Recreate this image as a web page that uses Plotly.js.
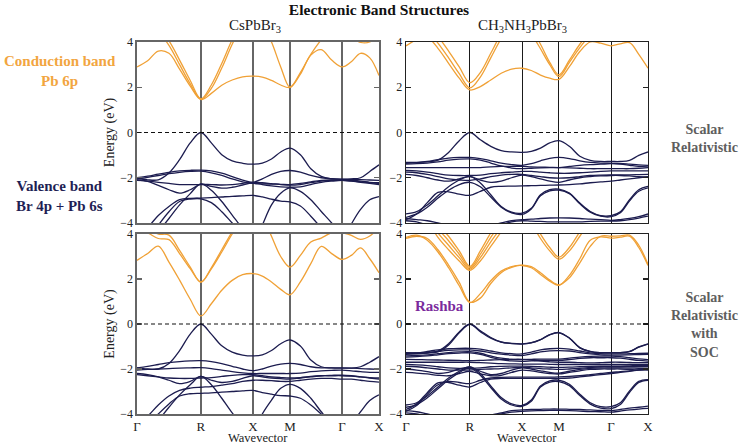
<!DOCTYPE html>
<html>
<head>
<meta charset="utf-8">
<script src="https://cdn.plot.ly/plotly-3.0.1.min.js"></script>
<style>html,body{margin:0;padding:0;background:#fff;}#chart{width:742px;height:445px;}</style>
</head>
<body>
<div id="chart"></div>
<script>
// ---- k-path (Γ-R-X-M-Γ-X, simple cubic) ----
const segLen = [Math.sqrt(3), Math.SQRT2, 1, Math.SQRT2, 1];
const segSteps = [6, 5, 4, 5, 4];
const kLabels = ['Γ', 'R', 'X', 'M', 'Γ', 'X'];
const yTicks = [-4, -2, 0, 2, 4];

// ---- CsPbBr3, scalar relativistic (top-left) ----
const tlC1 = [2.9,3.17,3.6,3.5,2.8,2.05,1.46, 1.73,2.09,2.32,2.46,2.49, 2.45,2.3,2.1,1.99, 2.58,3.42,3.66,3.2,2.9, 3.13,3.5,3.3,2.52];
const tlC2 = [5.0,4.8,4.45,3.85,3.0,2.15,1.47, 1.95,2.85,3.9,4.8,5.3, 4.8,4.0,2.9,2.0, 2.65,3.45,4.1,4.6,4.9, 4.7,4.5,4.4,4.5];
const tlC3 = [5.2,5.0,4.6,4.05,3.2,2.3,1.49, 2.1,3.05,4.1,4.9,5.4, 5.2,5.0,4.8,4.7, 4.7,4.6,4.5,4.4,4.3, 4.2,3.98,4.0,4.3];
const tlV1 = [-2.01,-2.09,-2.09,-1.79,-1.2,-0.46,0, -0.46,-0.98,-1.25,-1.36,-1.4, -1.35,-1.17,-0.86,-0.69, -0.98,-1.6,-1.94,-2.04,-2.06, -2.05,-2.0,-1.72,-1.43];
const tlV2 = [-2.0,-1.93,-1.84,-1.76,-1.7,-1.67,-1.66, -1.7,-1.8,-1.95,-2.1,-2.2, -2.05,-1.85,-1.72,-1.68, -1.75,-1.9,-2.0,-2.05,-2.07, -2.07,-2.08,-2.1,-2.12];
const tlV3 = [-2.06,-1.98,-1.9,-1.82,-1.76,-1.72,-1.71, -1.78,-1.9,-2.05,-2.18,-2.25, -2.27,-2.28,-2.29,-2.3, -2.25,-2.18,-2.12,-2.1,-2.1, -2.12,-2.15,-2.2,-2.22];
const tlV4 = [-2.1,-2.16,-2.34,-2.53,-2.68,-2.53,-2.28, -2.38,-2.46,-2.42,-2.32,-2.22, -2.3,-2.36,-2.4,-2.42, -2.4,-2.3,-2.2,-2.15,-2.12, -2.15,-2.2,-2.25,-2.3];
const tlV5 = [-4.6,-4.2,-3.67,-3.27,-2.97,-2.91,-2.9, -2.88,-2.85,-2.82,-2.8,-2.78, -2.85,-2.95,-3.03,-3.07, -3.25,-3.7,-4.2,-4.6,-4.8, -4.05,-3.4,-2.97,-2.83];
const tlV6 = [-5.5,-4.8,-4.1,-3.5,-3.05,-2.94,-2.93, -3.1,-3.5,-4.0,-4.5,-5.0, -4.1,-3.2,-2.68,-2.45, -2.6,-2.97,-3.49,-4.0,-4.6, -4.8,-5.0,-5.1,-5.2];
const tlV7 = [-5.6,-5.0,-4.4,-3.8,-3.2,-2.7,-2.27, -2.55,-3.05,-3.65,-4.25,-4.8, -4.8,-4.6,-4.3,-4.1, -4.2,-4.4,-4.6,-4.8,-5.0, -5.1,-5.2,-5.3,-5.3];
const tlV8 = [-2.12,-2.15,-2.2,-2.25,-2.3,-2.3,-2.3, -2.3,-2.32,-2.3,-2.25,-2.2, -2.22,-2.26,-2.3,-2.33, -2.3,-2.22,-2.15,-2.12,-2.12, -2.14,-2.18,-2.22,-2.25];

// ---- CH3NH3PbBr3, scalar relativistic (top-right) ----
const trC1 = [3.83,4.1,4.2,3.72,3.06,2.4,1.88, 2.03,2.32,2.62,2.8,2.84, 2.74,2.54,2.4,2.35, 2.91,3.58,4.0,3.95,3.83, 3.92,3.97,3.45,2.84];
const trC2 = [4.4,4.6,4.5,3.95,3.3,2.6,1.97, 2.45,3.3,4.15,4.8,5.2, 4.4,3.7,3.0,2.47, 3.1,3.75,4.3,4.6,4.7, 4.7,4.6,4.5,4.5];
const trC3 = [4.7,4.9,4.8,4.25,3.6,2.9,2.2, 2.65,3.5,4.35,4.9,5.3, 4.6,3.9,3.1,2.55, 3.2,3.9,4.45,4.7,4.8, 4.8,4.7,4.6,4.6];
const trV1 = [-1.32,-1.32,-1.3,-1.22,-0.88,-0.36,0, -0.32,-0.61,-0.8,-0.86,-0.88, -0.83,-0.69,-0.46,-0.36, -0.61,-1.05,-1.23,-1.28,-1.28, -1.28,-1.23,-1.01,-0.86];
const trV2 = [-1.36,-1.33,-1.28,-1.2,-1.13,-1.1,-1.1, -1.15,-1.25,-1.35,-1.42,-1.45, -1.38,-1.25,-1.14,-1.1, -1.15,-1.25,-1.32,-1.35,-1.36, -1.37,-1.4,-1.43,-1.45];
const trV3 = [-1.4,-1.38,-1.35,-1.3,-1.22,-1.18,-1.17, -1.22,-1.35,-1.48,-1.57,-1.6, -1.58,-1.56,-1.55,-1.55, -1.5,-1.45,-1.42,-1.4,-1.38, -1.4,-1.45,-1.5,-1.52];
const trV4 = [-1.55,-1.55,-1.55,-1.55,-1.55,-1.55,-1.55, -1.55,-1.52,-1.5,-1.5,-1.5, -1.52,-1.53,-1.54,-1.55, -1.56,-1.58,-1.6,-1.6,-1.6, -1.6,-1.6,-1.58,-1.55];
const trV5 = [-1.68,-1.7,-1.75,-1.82,-1.88,-1.9,-1.9, -1.88,-1.82,-1.78,-1.75,-1.72, -1.72,-1.75,-1.78,-1.8, -1.8,-1.78,-1.75,-1.72,-1.7, -1.7,-1.7,-1.7,-1.7];
const trV6 = [-1.75,-1.78,-1.85,-1.95,-2.05,-2.1,-2.12, -2.05,-1.95,-1.88,-1.85,-1.85, -1.9,-1.95,-2.0,-2.02, -2.0,-1.95,-1.9,-1.88,-1.87, -1.87,-1.87,-1.86,-1.85];
const trV7 = [-1.85,-1.9,-2.0,-2.1,-2.15,-2.05,-1.95, -2.1,-2.2,-2.15,-2.0,-1.88, -1.95,-2.05,-2.15,-2.2, -2.1,-2.0,-1.95,-1.92,-1.9, -1.9,-1.92,-1.95,-1.97];
const trV8 = [-3.6,-3.5,-3.2,-2.8,-2.4,-2.1,-1.94, -2.23,-2.75,-3.27,-3.52,-3.56, -3.35,-2.75,-2.53,-2.5, -2.68,-3.12,-3.49,-3.67,-3.67, -3.5,-2.97,-2.53,-2.38];
const trV9 = [-3.75,-3.6,-3.3,-2.9,-2.55,-2.3,-2.2, -2.4,-2.85,-3.3,-3.55,-3.62, -3.38,-2.8,-2.58,-2.55, -2.7,-3.15,-3.52,-3.7,-3.72, -3.55,-3.02,-2.6,-2.45];
const trV10 = [-3.85,-3.6,-3.1,-2.65,-2.62,-2.72,-2.78, -2.6,-2.42,-2.38,-2.37,-2.36, -2.35,-2.34,-2.33,-2.32, -2.3,-2.27,-2.22,-2.18,-2.15, -2.1,-2.05,-2.0,-1.95];
const trV11 = [-3.8,-3.85,-3.9,-4.0,-4.1,-4.2,-4.25, -4.2,-4.1,-4.0,-3.9,-3.85, -3.83,-3.8,-3.78,-3.77, -3.78,-3.8,-3.83,-3.85,-3.88, -3.85,-3.8,-3.72,-3.6];
const trV12 = [-3.9,-3.95,-4.1,-4.3,-4.5,-4.6,-4.6, -4.5,-4.3,-4.1,-3.95,-3.9, -3.92,-3.93,-3.95,-3.95, -3.95,-3.95,-3.93,-3.92,-3.92, -3.9,-3.85,-3.78,-3.7];

// ---- CsPbBr3, with SOC (bottom-left) ----
const blC1 = [2.83,3.13,3.46,2.75,1.95,1.1,0.36, 0.9,1.5,1.94,2.19,2.24, 2.13,1.87,1.54,1.3, 1.87,2.68,3.45,3.13,2.87, 3.05,3.38,2.9,2.28];
const blC2 = [4.2,4.05,3.8,3.75,3.13,2.46,1.87, 2.45,3.2,4.0,4.7,5.2, 4.8,3.9,3.0,2.53, 3.05,3.64,3.82,4.05,4.05, 3.94,3.76,3.91,4.3];
const blC3 = [4.5,4.2,4.0,3.95,3.27,2.53,1.85, 2.5,3.3,4.1,4.8,5.3, 5.2,5.0,4.8,4.6, 4.5,4.4,4.3,4.3,4.3, 4.3,4.3,4.4,4.5];
const blV1 = [-1.95,-2.0,-2.0,-1.75,-1.18,-0.45,0, -0.45,-0.97,-1.25,-1.38,-1.42, -1.37,-1.18,-0.88,-0.71, -0.98,-1.6,-1.9,-1.95,-1.96, -1.96,-1.9,-1.7,-1.45];
const blV2 = [-1.95,-1.88,-1.8,-1.72,-1.67,-1.64,-1.63, -1.67,-1.76,-1.88,-2.0,-2.07, -2.0,-1.87,-1.78,-1.75, -1.8,-1.9,-1.95,-1.95,-1.95, -1.96,-1.98,-2.0,-2.02];
const blV3 = [-2.05,-2.02,-2.0,-1.98,-1.96,-1.95,-1.94, -1.98,-2.05,-2.12,-2.17,-2.2, -2.2,-2.2,-2.2,-2.2, -2.18,-2.12,-2.08,-2.06,-2.05, -2.08,-2.12,-2.15,-2.15];
const blV4 = [-2.2,-2.25,-2.35,-2.5,-2.65,-2.55,-2.33, -2.5,-2.6,-2.55,-2.42,-2.3, -2.35,-2.4,-2.43,-2.45, -2.4,-2.35,-2.3,-2.28,-2.27, -2.3,-2.35,-2.4,-2.45];
const blV5 = [-2.25,-2.3,-2.35,-2.4,-2.42,-2.42,-2.4, -2.38,-2.33,-2.28,-2.25,-2.25, -2.3,-2.35,-2.38,-2.4, -2.38,-2.33,-2.3,-2.3,-2.3, -2.32,-2.35,-2.38,-2.4];
const blV6 = [-4.5,-4.1,-3.6,-3.2,-2.95,-2.85,-2.81, -2.78,-2.72,-2.65,-2.55,-2.5, -2.5,-2.52,-2.55,-2.55, -2.5,-2.45,-2.42,-2.42,-2.45, -2.45,-2.5,-2.55,-2.58];
const blV7 = [-4.9,-4.5,-4.0,-3.55,-3.2,-3.1,-3.08, -3.06,-3.03,-3.0,-2.97,-2.95, -3.05,-3.12,-3.18,-3.2, -3.3,-3.6,-4.0,-4.4,-4.6, -4.4,-3.9,-3.4,-3.15];
const blV8 = [-5.4,-4.9,-4.3,-3.7,-3.15,-2.7,-2.33, -2.7,-3.3,-3.95,-4.5,-4.9, -4.0,-3.38,-2.86,-2.68, -2.86,-3.3,-3.9,-4.4,-4.7, -4.9,-5.0,-5.1,-5.2];

// ---- CH3NH3PbBr3, with SOC (bottom-right) ----
const brC1 = [3.85,3.95,3.72,3.2,2.5,1.7,0.95, 1.35,1.92,2.35,2.55,2.6, 2.5,2.2,1.9,1.72, 2.16,2.9,3.72,3.87,3.82, 3.86,3.9,3.4,2.6];
const brC2 = [3.8,3.9,3.8,3.3,2.62,1.85,0.97, 1.15,1.8,2.28,2.52,2.62, 2.55,2.28,1.95,1.74, 2.05,2.72,3.45,3.9,3.9, 3.92,3.95,3.5,2.65];
const brC3 = [5.3,5.0,4.6,3.85,3.3,2.8,2.38, 2.8,3.45,4.1,4.8,5.2, 4.5,3.8,3.25,2.88, 3.25,3.9,4.55,5.0,5.2, 5.2,5.1,5.0,4.9];
const brC4 = [5.5,5.2,4.8,4.05,3.5,2.95,2.44, 2.95,3.65,4.3,5.0,5.3, 4.7,4.0,3.4,2.97, 3.4,4.1,4.75,5.1,5.3, 5.3,5.2,5.1,5.0];
const brC5 = [5.7,5.4,5.0,4.25,3.7,3.1,2.5, 3.1,3.85,4.5,5.1,5.4, 5.2,5.0,4.8,4.7, 4.8,5.0,5.2,5.3,5.4, 5.4,5.3,5.2,5.1];
const brC6 = [5.9,5.6,5.2,4.45,3.9,3.25,2.56, 3.25,4.05,4.7,5.2,5.5, 5.3,5.1,4.9,4.8, 4.9,5.1,5.3,5.4,5.5, 5.5,5.4,5.3,5.2];
const brV1a = [-1.27,-1.28,-1.27,-1.2,-0.88,-0.35,0, -0.3,-0.6,-0.8,-0.86,-0.88, -0.83,-0.69,-0.47,-0.38, -0.62,-1.05,-1.22,-1.27,-1.27, -1.27,-1.22,-1.02,-0.88];
const brV1b = [-1.29,-1.3,-1.29,-1.24,-0.93,-0.39,-0.02, -0.34,-0.63,-0.81,-0.87,-0.89, -0.84,-0.7,-0.48,-0.39, -0.63,-1.06,-1.23,-1.28,-1.28, -1.28,-1.23,-1.03,-0.89];
const brV2a = [-1.3,-1.28,-1.22,-1.15,-1.1,-1.08,-1.08, -1.12,-1.2,-1.28,-1.32,-1.33, -1.25,-1.15,-1.1,-1.08, -1.12,-1.2,-1.28,-1.32,-1.33, -1.33,-1.32,-1.31,-1.3];
const brV2b = [-1.35,-1.33,-1.28,-1.22,-1.17,-1.15,-1.15, -1.2,-1.28,-1.34,-1.38,-1.4, -1.33,-1.24,-1.19,-1.18, -1.2,-1.27,-1.33,-1.37,-1.38, -1.38,-1.37,-1.36,-1.35];
const brV3a = [-1.42,-1.4,-1.37,-1.32,-1.27,-1.24,-1.23, -1.3,-1.42,-1.52,-1.57,-1.58, -1.57,-1.56,-1.56,-1.56, -1.52,-1.47,-1.44,-1.43,-1.43, -1.45,-1.5,-1.55,-1.58];
const brV3b = [-1.47,-1.45,-1.42,-1.37,-1.32,-1.29,-1.28, -1.35,-1.48,-1.58,-1.64,-1.66, -1.64,-1.62,-1.62,-1.62, -1.58,-1.53,-1.5,-1.5,-1.5, -1.52,-1.57,-1.62,-1.65];
const brV4a = [-1.57,-1.58,-1.59,-1.6,-1.61,-1.62,-1.63, -1.62,-1.6,-1.58,-1.57,-1.57, -1.6,-1.65,-1.68,-1.7, -1.7,-1.72,-1.73,-1.72,-1.7, -1.7,-1.71,-1.72,-1.72];
const brV4b = [-1.7,-1.7,-1.7,-1.7,-1.7,-1.7,-1.7, -1.72,-1.74,-1.76,-1.77,-1.78, -1.78,-1.78,-1.79,-1.8, -1.8,-1.8,-1.8,-1.8,-1.8, -1.8,-1.8,-1.8,-1.8];
const brV5a = [-1.8,-1.82,-1.85,-1.9,-1.95,-1.97,-1.97, -1.95,-1.9,-1.88,-1.87,-1.87, -1.88,-1.9,-1.92,-1.93, -1.92,-1.9,-1.88,-1.87,-1.87, -1.87,-1.86,-1.85,-1.85];
const brV5b = [-1.88,-1.9,-1.95,-2.0,-2.05,-2.05,-2.04, -2.02,-2.0,-1.98,-1.95,-1.93, -1.95,-1.98,-2.0,-2.02, -2.0,-1.97,-1.93,-1.9,-1.9, -1.9,-1.9,-1.9,-1.9];
const brV6a = [-2.0,-2.05,-2.12,-2.2,-2.15,-2.0,-1.93, -2.1,-2.25,-2.2,-2.05,-1.95, -2.0,-2.08,-2.15,-2.18, -2.1,-2.02,-1.97,-1.95,-1.95, -1.95,-1.96,-1.97,-1.98];
const brV6b = [-2.15,-2.18,-2.22,-2.28,-2.3,-2.2,-2.1, -2.22,-2.3,-2.28,-2.15,-2.05, -2.08,-2.15,-2.2,-2.22, -2.15,-2.08,-2.02,-2.0,-2.0, -2.0,-2.02,-2.04,-2.05];
const brV7a = [-3.6,-3.5,-3.2,-2.8,-2.4,-2.1,-1.9, -2.2,-2.75,-3.27,-3.55,-3.62, -3.38,-2.75,-2.53,-2.5, -2.68,-3.12,-3.5,-3.67,-3.67, -3.5,-2.97,-2.55,-2.47];
const brV7b = [-3.7,-3.58,-3.28,-2.88,-2.48,-2.16,-1.95, -2.28,-2.82,-3.33,-3.6,-3.66, -3.43,-2.8,-2.58,-2.56, -2.74,-3.18,-3.56,-3.74,-3.76, -3.58,-3.04,-2.6,-2.5];
const brV8a = [-3.8,-3.55,-3.05,-2.62,-2.6,-2.72,-2.8, -2.6,-2.45,-2.42,-2.42,-2.42, -2.42,-2.42,-2.42,-2.42, -2.4,-2.35,-2.3,-2.25,-2.2, -2.15,-2.1,-2.05,-2.0];
const brV8b = [-3.88,-3.62,-3.12,-2.7,-2.55,-2.6,-2.65, -2.5,-2.4,-2.37,-2.36,-2.36, -2.36,-2.36,-2.36,-2.35, -2.33,-2.3,-2.25,-2.2,-2.15, -2.12,-2.08,-2.04,-2.0];
const brV9a = [-3.85,-3.9,-4.0,-4.1,-4.2,-4.3,-4.3, -4.2,-4.05,-3.95,-3.85,-3.82, -3.8,-3.79,-3.78,-3.78, -3.79,-3.8,-3.82,-3.84,-3.85, -3.8,-3.74,-3.7,-3.65];
const brV9b = [-3.95,-4.0,-4.1,-4.2,-4.3,-4.4,-4.4, -4.3,-4.15,-4.0,-3.92,-3.88, -3.86,-3.85,-3.84,-3.84, -3.85,-3.87,-3.89,-3.9,-3.92, -3.87,-3.82,-3.78,-3.75];

// ---- build k grid from the path segments ----
const kGrid = [0];
const kSym = [0];
let acc = 0;
segLen.forEach((L, s) => {
  for (let j = 1; j <= segSteps[s]; j++) kGrid.push(acc + L * j / segSteps[s]);
  acc += L;
  kSym.push(acc);
});
const kEnd = acc;

const ORANGE = '#F0A136';
const NAVY = '#1C1C4F';
const FONT = 'Liberation Serif, "DejaVu Serif", serif';

const panels = [
  {ax: '', cond: [tlC1, tlC2, tlC3], val: [tlV1, tlV2, tlV3, tlV4, tlV5, tlV6, tlV7, tlV8]},
  {ax: '2', cond: [trC1, trC2, trC3], val: [trV1, trV2, trV3, trV4, trV5, trV6, trV7, trV8, trV9, trV10, trV11, trV12]},
  {ax: '3', cond: [blC1, blC2, blC3], val: [blV1, blV2, blV3, blV4, blV5, blV6, blV7, blV8]},
  {ax: '4', cond: [brC1, brC2, brC3, brC4, brC5, brC6], val: [brV1a, brV1b, brV2a, brV2b, brV3a, brV3b, brV4a, brV4b, brV5a, brV5b, brV6a, brV6b, brV7a, brV7b, brV8a, brV8b, brV9a, brV9b]}
];

const traces = [];
panels.forEach(p => {
  const add = (arr, color) => traces.push({
    type: 'scatter', mode: 'lines', x: kGrid, y: arr,
    xaxis: 'x' + p.ax, yaxis: 'y' + p.ax,
    line: {color: color, width: 1.3, shape: 'spline', smoothing: 1},
    hoverinfo: 'skip', showlegend: false
  });
  p.val.forEach(a => add(a, NAVY));
  p.cond.forEach(a => add(a, ORANGE));
});

const W = 742, H = 445;
const xdomL = [137 / W, 379 / W], xdomR = [406 / W, 648 / W];
const ydomT = [(H - 223) / H, (H - 42) / H], ydomB = [(H - 414) / H, (H - 234) / H];

function xax(dom, anchor, showLabels, dark) {
  return {
    domain: dom, anchor: anchor, range: [0, kEnd],
    tickmode: 'array', tickvals: kSym, ticktext: kLabels,
    showticklabels: showLabels, ticks: '',
    showgrid: true, gridcolor: dark ? '#1a1a1a' : '#666', gridwidth: dark ? 1 : 1.5,
    zeroline: false, showline: true, mirror: true,
    linecolor: dark ? '#222' : '#666', linewidth: dark ? 1.3 : 1.6,
    tickfont: {family: FONT, size: 13, color: '#222'},
    automargin: false
  };
}
function yax(dom, anchor, showTitle, dark) {
  const a = {
    domain: dom, anchor: anchor, range: [-4, 4],
    tickmode: 'array', tickvals: yTicks,
    ticks: 'inside', ticklen: 5, tickwidth: 1.3, tickcolor: dark ? '#222' : '#666',
    showgrid: false, zeroline: false, showline: true, mirror: 'ticks',
    linecolor: dark ? '#222' : '#666', linewidth: dark ? 1.3 : 1.6,
    tickfont: {family: FONT, size: 12, color: '#222'},
    automargin: false
  };
  if (showTitle) a.title = {text: 'Energy (eV)', font: {family: FONT, size: 14, color: '#222'}, standoff: 2};
  return a;
}

const shapes = ['', '2', '3', '4'].map(a => ({
  type: 'line', xref: 'x' + a, yref: 'y' + a, x0: 0, x1: kEnd, y0: 0, y1: 0,
  line: {color: '#111', width: 1.2, dash: '4px,3px'}
}));

const ann = (text, x, y, color, size, bold) => ({
  text: bold ? '<b>' + text + '</b>' : text, x: x, y: y, xref: 'paper', yref: 'paper',
  xanchor: 'center', yanchor: 'middle', showarrow: false, borderpad: 0,
  font: {family: FONT, size: size, color: color}
});

const layout = {
  width: W, height: H,
  margin: {l: 0, r: 0, t: 0, b: 0},
  paper_bgcolor: '#fff', plot_bgcolor: '#fff',
  font: {family: FONT},
  title: {text: '<b>Electronic Band Structures</b>', x: 379 / W, y: (H - 10) / H, xanchor: 'center', yanchor: 'middle', xref: 'paper', yref: 'paper',
          font: {family: FONT, size: 15.5, color: '#111'}},
  xaxis: xax(xdomL, 'y', false, false),
  yaxis: yax(ydomT, 'x', true, false),
  xaxis2: xax(xdomR, 'y2', false, true),
  yaxis2: yax(ydomT, 'x2', false, true),
  xaxis3: xax(xdomL, 'y3', true, false),
  yaxis3: yax(ydomB, 'x3', true, false),
  xaxis4: xax(xdomR, 'y4', true, true),
  yaxis4: yax(ydomB, 'x4', false, true),
  shapes: shapes,
  annotations: [
    ann('CsPbBr<sub>3</sub>', 255 / W, (H - 26) / H, '#222', 15, false),
    ann('CH<sub>3</sub>NH<sub>3</sub>PbBr<sub>3</sub>', 522 / W, (H - 26) / H, '#222', 15, false),
    ann('Wavevector', 258 / W, (H - 437.5) / H, '#222', 12.5, false),
    ann('Wavevector', 527 / W, (H - 437.5) / H, '#222', 12.5, false),
    ann('Conduction band<br>Pb 6p', 60 / W, (H - 71) / H, '#F2A540', 15, true),
    ann('Valence band<br>Br 4p + Pb 6s', 60 / W, (H - 196) / H, '#1F1F55', 15, true),
    ann('Scalar<br>Relativistic', 704 / W, (H - 138) / H, '#5E5E5E', 14, true),
    ann('Scalar<br>Relativistic<br>with<br>SOC', 704 / W, (H - 325) / H, '#5E5E5E', 14, true),
    ann('Rashba', 439 / W, (H - 306) / H, '#7A2A9C', 15, true)
  ]
};

Plotly.newPlot('chart', traces, layout, {staticPlot: true, displayModeBar: false});
</script>
</body>
</html>
